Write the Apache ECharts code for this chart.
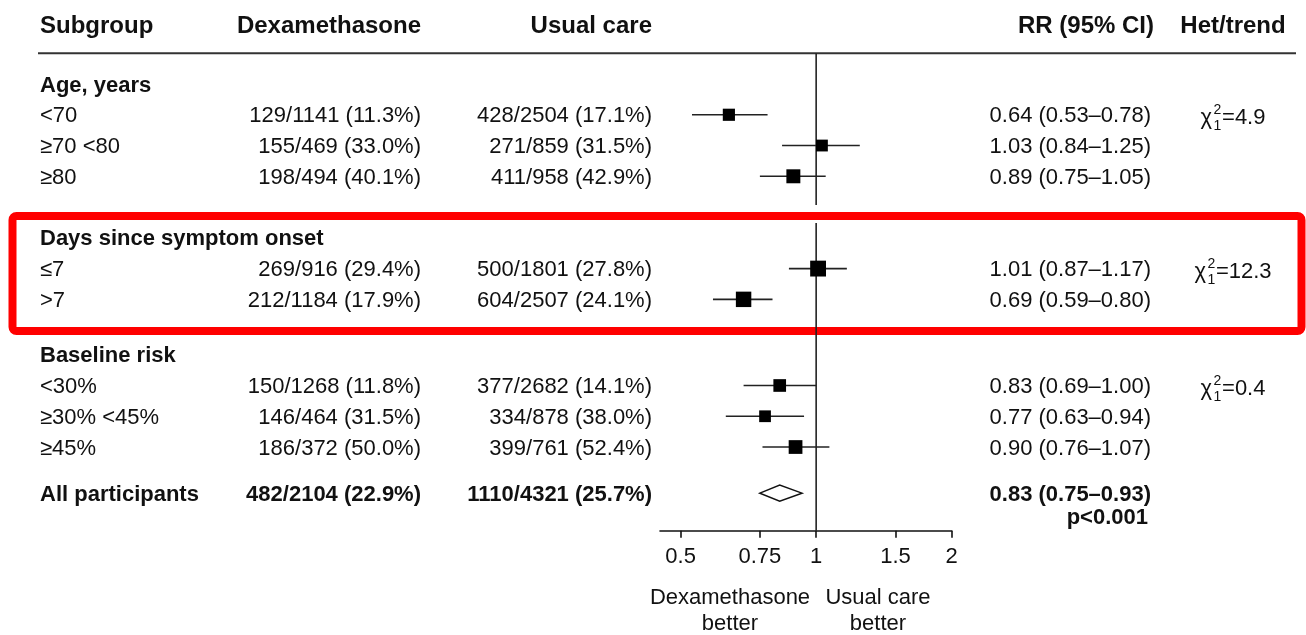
<!DOCTYPE html>
<html><head><meta charset="utf-8">
<script src="https://cdn.jsdelivr.net/npm/echarts@6/dist/echarts.min.js"></script>
<style>html,body{margin:0;padding:0;background:#fff}#c{width:1306px;height:635px}</style>
</head><body><div id="c"></div>
<script>
// ---------------- data ----------------
const columnHeaders = ['Subgroup', 'Dexamethasone', 'Usual care', 'RR (95% CI)', 'Het/trend'];
const groups = ['Age, years', 'Days since symptom onset', 'Baseline risk'];
const hetChi = ['4.9', '12.3', '0.4'];
const subgroups = ['<70', '≥70 <80', '≥80', '≤7', '>7', '<30%', '≥30% <45%', '≥45%'];
const subgroupGroup = [0, 0, 0, 1, 1, 2, 2, 2];
const dexaEvents = [129, 155, 198, 269, 212, 150, 146, 186];
const dexaTotal = [1141, 469, 494, 916, 1184, 1268, 464, 372];
const ucEvents = [428, 271, 411, 500, 604, 377, 334, 399];
const ucTotal = [2504, 859, 958, 1801, 2507, 2682, 878, 761];
const rr = [0.64, 1.03, 0.89, 1.01, 0.69, 0.83, 0.77, 0.90];
const rrLow = [0.53, 0.84, 0.75, 0.87, 0.59, 0.69, 0.63, 0.76];
const rrHigh = [0.78, 1.25, 1.05, 1.17, 0.80, 1.00, 0.94, 1.07];
const overallLabel = 'All participants';
const overallDexa = [482, 2104];
const overallUc = [1110, 4321];
const overallRR = [0.83, 0.75, 0.93];
const overallP = 'p<0.001';
const xTicks = [0.5, 0.75, 1, 1.5, 2];
const xMin = 0.45, xMax = 2;
const favourLabels = ['Dexamethasone\nbetter', 'Usual care\nbetter'];

// ---------------- layout (row units, pixel columns) ----------------
const ROW = { header: -2, rule: -1, group: [0, 5, 8.8], sub: [1, 2, 3, 6, 7, 9.8, 10.8, 11.8], overall: 13.3, p: 14.05, axis: 14.52, gapTop: 3.93, gapBottom: 4.52 };
const COL = { label: 40, dexaR: 421, ucR: 652, rrR: 1151, rrHeadR: 1154, hetC: 1233 };
const FONT = '"Liberation Sans", Arial, Helvetica, sans-serif';
const INK = '#111';
const BOX_K = 4.7;
const TDY = 1.5;   // text baseline nudge
const HDY = 2;     // header nudge

const measureCtx = document.createElement('canvas').getContext('2d');
function textW(t, size, weight) { measureCtx.font = (weight || 'normal') + ' ' + size + 'px ' + FONT; return measureCtx.measureText(t).width; }
function pct(a, b) { return (a / b * 100).toFixed(1); }
function frac(a, b) { return a + '/' + b + ' (' + pct(a, b) + '%)'; }
function ci(e, l, h) { return e.toFixed(2) + ' (' + l.toFixed(2) + '\u2013' + h.toFixed(2) + ')'; }
function txt(text, x, y, o) {
  return { type: 'text', silent: true, style: Object.assign({ text: text, x: x, y: y + TDY, fill: INK, fontFamily: FONT, fontSize: 22, fontWeight: 'normal', align: 'left', verticalAlign: 'middle' }, o || {}) };
}
const L2 = Math.log2;

// items drawn by the custom series
const items = [];
items.push({ kind: 'head' });
items.push({ kind: 'ref' });
groups.forEach((g, i) => items.push({ kind: 'group', i: i }));
subgroups.forEach((s, i) => items.push({ kind: 'sub', i: i }));
items.push({ kind: 'overall' });
items.push({ kind: 'favour' });

function renderItem(params, api) {
  const it = items[api.value(0)];
  const ch = [];
  const Y = r => api.coord([0, r])[1];
  const X = v => api.coord([L2(v), 0])[0];
  if (it.kind === 'head') {
    const y = Y(ROW.header) + HDY;
    const b = { fontWeight: 'bold', fontSize: 24 };
    ch.push(txt(columnHeaders[0], COL.label, y, b));
    ch.push(txt(columnHeaders[1], COL.dexaR, y, Object.assign({ align: 'right' }, b)));
    ch.push(txt(columnHeaders[2], COL.ucR, y, Object.assign({ align: 'right' }, b)));
    ch.push(txt(columnHeaders[3], COL.rrHeadR, y, Object.assign({ align: 'right' }, b)));
    ch.push(txt(columnHeaders[4], COL.hetC, y, Object.assign({ align: 'center' }, b)));
    const yr = Y(ROW.rule);
    ch.push({ type: 'line', silent: true, shape: { x1: 38, y1: yr, x2: 1296, y2: yr }, style: { stroke: '#333', lineWidth: 2 } });
  } else if (it.kind === 'ref') {
    const x = X(1);
    ch.push({ type: 'line', silent: true, shape: { x1: x, y1: Y(ROW.rule), x2: x, y2: Y(ROW.gapTop) }, style: { stroke: '#222', lineWidth: 1.6 } });
    ch.push({ type: 'line', silent: true, shape: { x1: x, y1: Y(ROW.gapBottom), x2: x, y2: Y(ROW.axis) }, style: { stroke: '#222', lineWidth: 1.6 } });
  } else if (it.kind === 'group') {
    ch.push(txt(groups[it.i], COL.label, Y(ROW.group[it.i]), { fontWeight: 'bold' }));
  } else if (it.kind === 'sub') {
    const i = it.i;
    const y = Y(ROW.sub[i]);
    ch.push(txt(subgroups[i], COL.label, y));
    ch.push(txt(frac(dexaEvents[i], dexaTotal[i]), COL.dexaR, y, { align: 'right' }));
    ch.push(txt(frac(ucEvents[i], ucTotal[i]), COL.ucR, y, { align: 'right' }));
    ch.push(txt(ci(rr[i], rrLow[i], rrHigh[i]), COL.rrR, y, { align: 'right' }));
    ch.push({ type: 'line', silent: true, shape: { x1: X(rrLow[i]), y1: y, x2: X(rrHigh[i]), y2: y }, style: { stroke: '#222', lineWidth: 1.6 } });
    const s = BOX_K / Math.log(rrHigh[i] / rrLow[i]);
    const xc = X(rr[i]);
    ch.push({ type: 'rect', silent: true, shape: { x: xc - s / 2, y: y - s / 2, width: s, height: s }, style: { fill: '#000' } });
    // heterogeneity on first row of group
    const g = subgroupGroup[i];
    if (subgroupGroup.indexOf(g) === i) {
      const v = '=' + hetChi[g];
      const vw = textW(v, 22);
      const chiW = 13, subW = 8.5;
      const left = COL.hetC - (chiW + subW + vw) / 2;
      ch.push(txt('\u03c7', left, y + 2));
      ch.push(txt('2', left + chiW, y - 6, { fontSize: 14 }));
      ch.push(txt('1', left + chiW, y + 10, { fontSize: 14 }));
      ch.push(txt(v, left + chiW + subW, y + 2));
    }
  } else if (it.kind === 'overall') {
    const y = Y(ROW.overall);
    const b = { fontWeight: 'bold' };
    ch.push(txt(overallLabel, COL.label, y, b));
    ch.push(txt(frac(overallDexa[0], overallDexa[1]), COL.dexaR, y, Object.assign({ align: 'right' }, b)));
    ch.push(txt(frac(overallUc[0], overallUc[1]), COL.ucR, y, Object.assign({ align: 'right' }, b)));
    ch.push(txt(ci(overallRR[0], overallRR[1], overallRR[2]), COL.rrR, y, Object.assign({ align: 'right' }, b)));
    ch.push(txt(overallP, COL.rrR - 3, Y(ROW.p), Object.assign({ align: 'right' }, b)));
    const xl = X(overallRR[1]), xc = X(overallRR[0]), xh = X(overallRR[2]);
    ch.push({ type: 'polygon', silent: true, shape: { points: [[xl, y], [xc, y - 8], [xh, y], [xc, y + 8]] }, style: { fill: '#fff', stroke: '#111', lineWidth: 1.5 } });
  } else if (it.kind === 'favour') {
    ch.push(txt(favourLabels[0], 730, 609, { align: 'center', lineHeight: 26 }));
    ch.push(txt(favourLabels[1], 878, 609, { align: 'center', lineHeight: 26 }));
  }
  return { type: 'group', children: ch };
}

const chart = echarts.init(document.getElementById('c'), null, { renderer: 'canvas' });
chart.setOption({
  animation: false,
  backgroundColor: '#fff',
  grid: { left: 660, right: 1306 - 951.7, top: 84, bottom: 635 - 530.7, containLabel: false },
  graphic: [{
    type: 'rect', silent: true, z: 0,
    shape: { x: 12.5, y: 216, width: 1289, height: 115, r: 4 },
    style: { fill: 'none', stroke: '#ff0000', lineWidth: 8 }
  }],
  xAxis: {
    type: 'value', min: L2(xMin), max: L2(xMax),
    axisLine: { show: true, onZero: false, lineStyle: { color: '#111', width: 1.6 } },
    axisTick: { show: true, length: 7, customValues: xTicks.map(L2), lineStyle: { color: '#111', width: 1.6 } },
    axisLabel: {
      customValues: xTicks.map(L2), margin: 15, fontSize: 22, color: INK, fontFamily: FONT,
      formatter: v => { const t = xTicks.find(t => Math.abs(L2(t) - v) < 1e-6); return t === undefined ? '' : String(t); }
    },
    splitLine: { show: false }
  },
  yAxis: { type: 'value', min: 0, max: ROW.axis, inverse: true, show: false },
  series: [{
    type: 'custom', clip: false, silent: true,
    coordinateSystem: 'cartesian2d',
    renderItem: renderItem,
    data: items.map((d, i) => [i, 0]),
    encode: { x: 1, y: 1 }
  }]
});
</script>
</body></html>
